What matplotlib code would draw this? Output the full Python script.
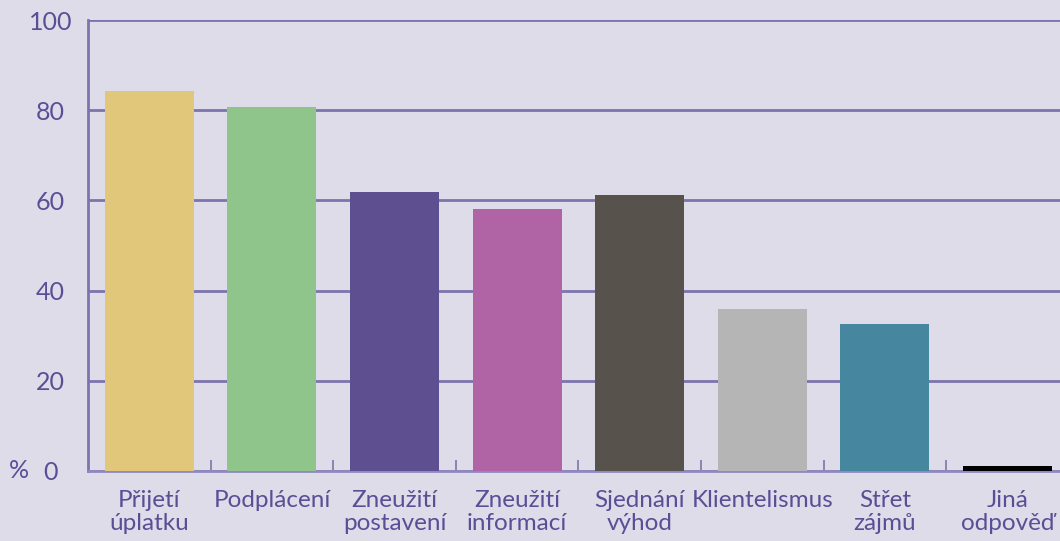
import matplotlib
matplotlib.use("Agg")
import matplotlib.pyplot as plt
from matplotlib.ticker import FixedLocator
import numpy as np

categories = ["Přijetí\núplatku", "Podplácení", "Zneužití\npostavení", "Zneužití\ninformací",
              "Sjednání\nvýhod", "Klientelismus", "Střet\nzájmů", "Jiná\nodpověď"]
values = [84.3, 80.7, 61.9, 58.1, 61.2, 35.9, 32.6, 1.1]
colors = ["#e0c77a", "#8fc48a", "#5e5090", "#b064a6", "#58524d", "#b6b5b5", "#46869e", "#000000"]
yticks = [0, 20, 40, 60, 80, 100]
ytick_labels = ["0", "20", "40", "60", "80", "100"]

bg = "#dfdcea"
txt = "#5a4e95"
grid = "#7d73ad"

plt.rcParams['font.family'] = ['Lato', 'DejaVu Sans']

fig = plt.figure(figsize=(10.6, 5.41), dpi=100, facecolor=bg)
ax = fig.add_axes([88/1060, 70/541, 1 - 88/1060, (471-20)/541])
ax.set_facecolor(bg)

x = np.arange(len(categories))
ax.set_axisbelow(True)
ax.yaxis.grid(True, color=grid, linewidth=2)
ax.bar(x, values, width=0.726, color=colors, zorder=3)

ax.set_ylim(0, 100)
ax.set_xlim(-0.5, (1060-88)/122.6 - 0.5)
ax.set_yticks(yticks)
ax.set_yticklabels(ytick_labels, fontsize=18, color=txt, ha='center')
ax.tick_params(axis='y', length=0, pad=27)

ax.set_xticks(x)
ax.set_xticklabels(categories, fontsize=17.5, color=txt, linespacing=1.12, va='top')
ax.tick_params(axis='x', which='major', length=0, pad=14)
ax.xaxis.set_minor_locator(FixedLocator(x[:-1] + 0.5))
ax.tick_params(axis='x', which='minor', direction='in', length=8, width=1.2, color=grid)

for s in ['top', 'right']:
    ax.spines[s].set_visible(False)
ax.spines['left'].set_color(grid)
ax.spines['left'].set_linewidth(2)
ax.spines['bottom'].set_color("#9088c0")
ax.spines['bottom'].set_linewidth(2)

ax.text(-0.0715, 0, "%", transform=ax.get_yaxis_transform(), fontsize=18, color=txt,
        ha='center', va='center')

fig.savefig("out.png", dpi=100, facecolor=bg)
